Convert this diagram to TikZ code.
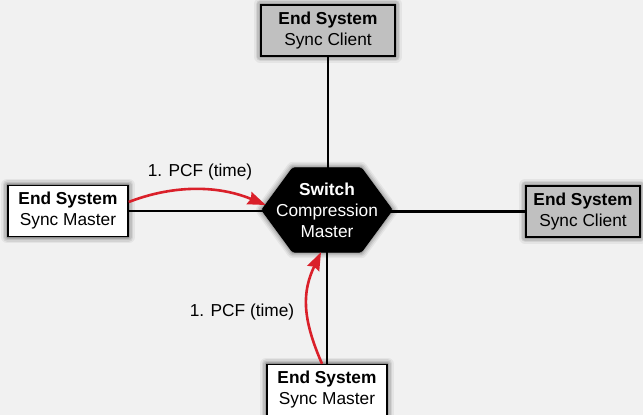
\documentclass[tikz,border=0pt]{standalone}
\usepackage{fontspec}
\setmainfont{Liberation Sans}
\usetikzlibrary{arrows.meta}
\definecolor{canvas}{RGB}{241,241,241}
\definecolor{clientgray}{RGB}{192,192,192}
\definecolor{pcfred}{RGB}{218,32,42}
\pgfdeclarelayer{bg}
\pgfdeclarelayer{shadowlayer}
\pgfdeclarelayer{links}
\pgfdeclarelayer{hexlayer}
\pgfsetlayers{bg,shadowlayer,links,hexlayer,main}
\tikzset{
  x=1pt, y=1pt,
  txt/.style={font=\fontsize{17.3}{21}\selectfont},
  lbl/.style={txt, inner sep=0pt},
  esbox/.style={txt, draw=black, line width=1.4pt, minimum height=51pt, inner sep=0pt,
    align=center},
  master/.style={esbox, fill=white},
  client/.style={esbox, fill=clientgray},
  hub/.style={txt, rectangle, minimum width=130pt, minimum height=84pt, inner sep=0pt,
    text=white, align=center},
  softshade/.style={black, line join=round, shift={(2pt,-4pt)}},
  link/.style={line width=2.4pt, black},
  pcf/.style={line width=2.6pt, pcfred, -{Stealth[inset=2pt, length=18pt, width=13pt]}}
}
% hexagon outline around the switch node
\def\hexpath#1{(#1.west) -- ([xshift=31pt]#1.north west) -- ([xshift=-31pt]#1.north east)
  -- (#1.east) -- ([xshift=-31pt]#1.south east) -- ([xshift=31pt]#1.south west) -- cycle}
% soft drop shadow under a box node, built from stacked translucent layers
\def\shadowsteps{12/0.05, 9/0.07, 6/0.09, 3/0.12, 1/0.15}
\def\boxshadow#1{%
  \foreach \w/\o in \shadowsteps
    \filldraw[softshade, opacity=\o, line width=\w pt] (#1.south west) rectangle (#1.north east);}
\begin{document}
\begin{tikzpicture}
\useasboundingbox (0,0) rectangle (643,-415);
\begin{pgfonlayer}{bg}
  \fill[canvas] (0,0) rectangle (643,-415);
\end{pgfonlayer}

% switch in the middle, end systems around it
\node[hub] (sw) at (327,-210) {\textbf{Switch}\\Compression\\Master};
\node[client, minimum width=134pt] (top) at (328,-30.5) {\textbf{End System}\\Sync Client};
\node[client, minimum width=114pt] (right) at (583,-211.5) {\textbf{End System}\\Sync Client};
\node[master, minimum width=120pt] (left) at (68,-211) {\textbf{End System}\\Sync Master};
\node[master, minimum width=120pt] (bottom) at (327,-390) {\textbf{End System}\\Sync Master};

% soft shadows
\begin{pgfonlayer}{shadowlayer}
  \boxshadow{top}
  \boxshadow{right}
  \boxshadow{left}
  \boxshadow{bottom}
\end{pgfonlayer}

% switch hexagon with its shadow
\begin{pgfonlayer}{hexlayer}
  \foreach \w/\o in \shadowsteps
    \filldraw[softshade, opacity=\o, line width=\w pt] \hexpath{sw};
  \filldraw[black, line width=1pt, rounded corners=2pt] \hexpath{sw};
\end{pgfonlayer}

% physical links
\begin{pgfonlayer}{links}
  \draw[link] (top.center) -- (top.center |- sw.center);
  \draw[link] (bottom.center) -- (bottom.center |- sw.center);
  \draw[link] (left.center) -- (left.center -| sw.center);
  \draw[link] (right.center) -- (right.center -| sw.center);
\end{pgfonlayer}

% protocol control frames sent by the sync masters
\draw[pcf] ([yshift=9pt]left.east) .. controls (170,-186) and (215,-184) .. ([xshift=4pt,yshift=5pt]sw.west);
\node[lbl] (lblA) at (200,-172) {1. PCF (time)};
\draw[pcf] ([xshift=-5pt]bottom.north) .. controls (302,-318) and (302,-292) .. ([xshift=-6pt]sw.south);
\node[lbl] (lblB) at (242,-312) {1. PCF (time)};
\end{tikzpicture}
\end{document}
